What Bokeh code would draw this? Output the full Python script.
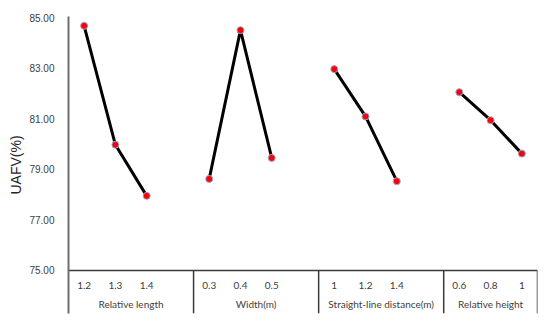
from bokeh.plotting import figure
from bokeh.models import FixedTicker, PrintfTickFormatter, Range1d
from bokeh.core.properties import value
from bokeh.embed import file_html
from bokeh.resources import INLINE

# ---- data ----
groups = ["Relative length", "Width(m)", "Straight-line distance(m)", "Relative height"]
levels = [["1.2", "1.3", "1.4"], ["0.3", "0.4", "0.5"], ["1", "1.2", "1.4"], ["0.6", "0.8", "1"]]
uafv = [[84.67, 79.97, 77.95], [78.62, 84.50, 79.45], [82.96, 81.09, 78.53], [82.05, 80.94, 79.62]]
y_ticks = [75, 77, 79, 81, 83, 85]

# ---- layout constants ----
SLOTS_PER_GROUP = 4
n_slots = SLOTS_PER_GROUP * len(groups) - 1
Y_MIN, Y_MAX = 73.30, 85.04
PX = (Y_MAX - Y_MIN) / 297.0
LABEL_Y = 75 - 15 * PX
GROUP_Y = 75 - 34 * PX

p = figure(width=550, height=321, output_backend="svg", toolbar_location=None,
           x_range=Range1d(0, n_slots), y_range=Range1d(Y_MIN, Y_MAX),
           x_axis_location=None, min_border_left=68, min_border_right=13,
           min_border_top=16, min_border_bottom=8)
p.outline_line_color = None
p.xgrid.visible = False
p.ygrid.visible = False

ax = p.yaxis[0]
ax.ticker = FixedTicker(ticks=y_ticks)
ax.formatter = PrintfTickFormatter(format="%.2f")
ax.major_tick_line_color = None
ax.minor_tick_line_color = None
ax.axis_line_color = "#6e6e6e"
ax.axis_line_width = 2
ax.major_label_standoff = 8
ax.major_label_text_font = "Liberation Sans"
ax.major_label_text_font_size = "10px"
ax.major_label_text_color = "#404040"
ax.axis_label = "UAFV(%)"
ax.axis_label_text_font = "Liberation Sans"
ax.axis_label_text_font_size = "14px"
ax.axis_label_text_font_style = "normal"
ax.axis_label_text_color = "#262626"
ax.axis_label_standoff = 2

# category table lines
p.segment(x0=[0], y0=[75], x1=[n_slots], y1=[75], line_color="#3a3a3a", line_width=1.5)
sep_x = [min(SLOTS_PER_GROUP * (g + 1), n_slots) for g in range(len(groups))]
p.segment(x0=sep_x, y0=[75] * len(sep_x), x1=sep_x, y1=[Y_MIN] * len(sep_x),
          line_color="#3a3a3a", line_width=1.5)

tick_x, tick_t = [], []
for g, lv in enumerate(levels):
    xs = [SLOTS_PER_GROUP * g + j + 0.5 for j in range(len(lv))]
    p.line(xs, uafv[g], line_color="black", line_width=3)
    p.scatter(xs, uafv[g], size=7, fill_color="#ff0000", line_color="#8fa8dc", line_width=1)
    tick_x += xs
    tick_t += lv

p.text(x=tick_x, y=[LABEL_Y] * len(tick_x), text=tick_t, text_align="center",
       text_baseline="middle", text_font=value("Lato"), text_font_size="10px",
       text_color="#404040")

grp_x = [(SLOTS_PER_GROUP * g + sep_x[g]) / 2 for g in range(len(groups))]
p.text(x=grp_x, y=[GROUP_Y] * len(grp_x), text=groups, text_align="center",
       text_baseline="middle", text_font=value("Lato"), text_font_size="10px",
       text_color="#404040")

open("out.html", "w").write(file_html(p, INLINE))
